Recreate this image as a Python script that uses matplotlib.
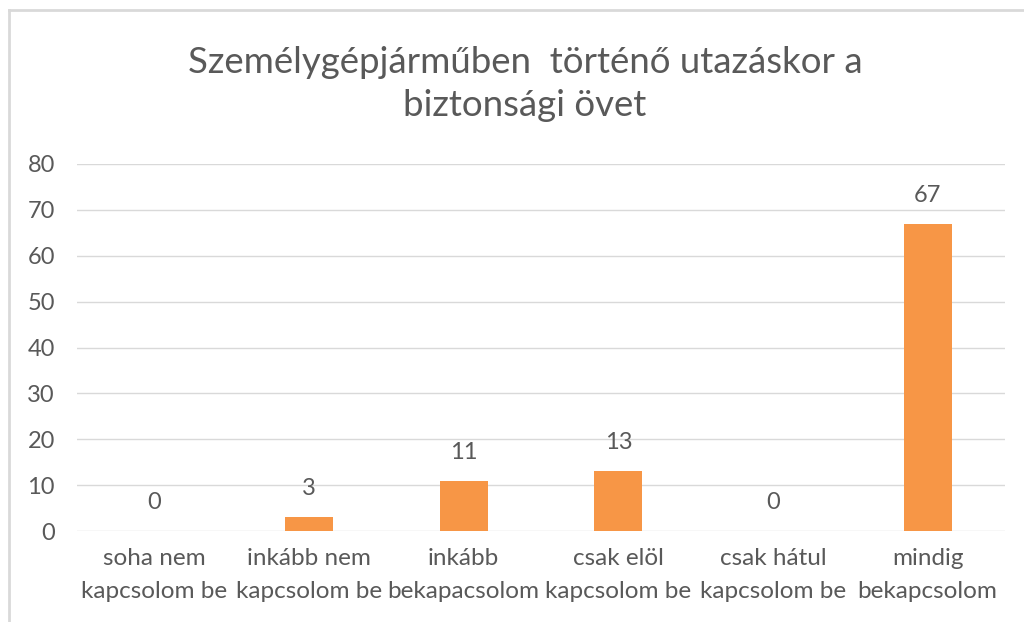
import matplotlib
matplotlib.use("Agg")
import matplotlib.pyplot as plt
from matplotlib.lines import Line2D

categories = ["soha nem\nkapcsolom be", "inkább nem\nkapcsolom be", "inkább\nbekapacsolom",
              "csak elöl\nkapcsolom be", "csak hátul\nkapcsolom be", "mindig\nbekapcsolom"]
values = [0, 3, 11, 13, 0, 67]
yticks = [0, 10, 20, 30, 40, 50, 60, 70, 80]
title = "Személygépjárműben  történő utazáskor a\nbiztonsági övet"

text_color = "#595959"
bar_color = "#F79646"
grid_color = "#D9D9D9"

plt.rcParams["font.family"] = ["Lato", "DejaVu Sans"]

fig = plt.figure(figsize=(10.24, 6.22), dpi=100)
ax = fig.add_axes([77 / 1024, 1 - 531 / 622, 928 / 1024, (531 - 164) / 622])

x = range(len(categories))
ax.bar(x, values, width=0.31, color=bar_color, zorder=3)
for xi, v in zip(x, values):
    ax.text(xi, v + 3.9, str(v), ha="center", va="bottom", fontsize=17, color=text_color)

ax.set_xlim(-0.5, len(categories) - 0.5)
ax.set_ylim(0, 80)
ax.set_yticks(yticks)
ax.set_xticks(list(x))
ax.set_xticklabels(categories, fontsize=17.5, color=text_color, linespacing=1.75)
ax.tick_params(axis="y", labelsize=17, labelcolor=text_color, length=0, pad=16)
ax.tick_params(axis="x", length=0, pad=12)
ax.grid(axis="y", color=grid_color, linewidth=1, zorder=0)
for s in ax.spines.values():
    s.set_visible(False)

fig.text(525 / 1024, 1 - 84 / 622, title, ha="center", va="center", fontsize=26.4,
         color=text_color, linespacing=1.4)

# chart frame (left and top edges)
fig.add_artist(Line2D([9 / 1024, 9 / 1024], [0, 1 - 10 / 622], transform=fig.transFigure,
                      color="#D9D9D9", linewidth=2))
fig.add_artist(Line2D([9 / 1024, 1], [1 - 10 / 622, 1 - 10 / 622], transform=fig.transFigure,
                      color="#D9D9D9", linewidth=2))

fig.savefig("out.png", dpi=100)
